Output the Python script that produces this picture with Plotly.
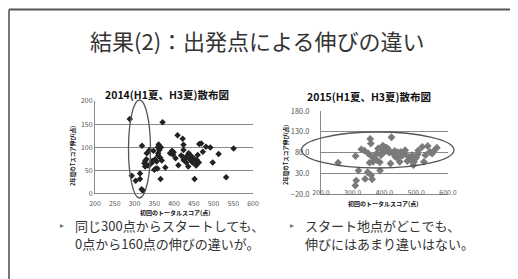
import plotly.graph_objects as go

W, H = 518, 279
OFF = 8  # page body margin that offsets the plot div

# ---- data ----
x2014 = [288, 371, 319, 293, 303, 314, 314, 318, 321, 327, 325, 327, 331, 330, 334, 340,
         348, 347, 352, 356, 350, 354, 358, 360, 360, 363, 361, 359, 365, 367, 366, 369,
         378, 390, 394, 399, 397, 409, 411, 404, 422, 424, 424, 422, 424, 429, 431, 436,
         437, 441, 443, 446, 447, 450, 452, 456, 458, 460, 463, 464, 469, 473, 481, 492,
         498, 513, 532, 551, 338, 345, 395, 432, 440, 445, 455, 418]
y2014 = [161, 154, 103, 38, 27, 43, 31, 9, 6, 58, 65, 70, 87, 74, 60, 63,
         92, 69, 74, 69, 51, 54, 54, 87, 82, 94, 106, 100, 77, 100, 31, 71,
         56, 87, 89, 89, 84, 126, 61, 76, 118, 105, 94, 79, 72, 77, 67, 58,
         87, 83, 79, 74, 67, 76, 31, 60, 72, 83, 67, 107, 108, 90, 101, 99,
         67, 85, 35, 97, 94, 70, 92, 80, 74, 70, 64, 82]

x2015 = [254, 309, 327, 337, 318, 311, 308, 339, 347, 361, 358, 386, 355, 357, 349, 361,
         364, 353, 375, 380, 389, 395, 399, 406, 413, 422, 419, 427, 432, 434, 441, 443,
         448, 451, 456, 462, 465, 472, 475, 482, 487, 491, 493, 500, 506, 519, 524, 529,
         536, 543, 550, 555, 565, 505, 390, 398, 405, 376, 385, 370, 410, 415]
y2015 = [56, 72, 88, 85, 37, 13, 1, 17, 33, 16, 26, 37, 113, 102, 78, 70,
         58, 56, 78, 90, 74, 97, 82, 92, 86, 117, 54, 78, 84, 70, 81, 66,
         58, 82, 73, 78, 86, 60, 70, 62, 74, 50, 58, 68, 85, 94, 58, 74,
         96, 82, 78, 84, 92, 76, 88, 94, 84, 62, 57, 66, 90, 80]

title = "結果(2)：出発点による伸びの違い"
chart1_title = "2014(H1夏、H3夏)散布図"
chart2_title = "2015(H1夏、H3夏)散布図"
ytitle = "2年間のTスコア伸び(点)"
xtitle = "初回のトータルスコア(点)"
bullet1 = ["同じ300点からスタートしても、", "0点から160点の伸びの違いが。"]
bullet2 = ["スタート地点がどこでも、", "伸びにはあまり違いはない。"]

FONT = "Noto Sans CJK JP"


def px(x):
    return (x - OFF) / W


def py(y):
    return 1 - (y - OFF) / H


fig = go.Figure()
fig.add_trace(go.Scatter(x=x2014, y=y2014, mode="markers", xaxis="x", yaxis="y",
                         marker=dict(symbol="diamond", size=5, color="#222222"),
                         showlegend=False, hoverinfo="skip"))
fig.add_trace(go.Scatter(x=x2015, y=y2015, mode="markers", xaxis="x2", yaxis="y2",
                         marker=dict(symbol="diamond", size=6, color="#7a7a7a"),
                         showlegend=False, hoverinfo="skip"))

tickfont = dict(family=FONT, size=7, color="#555555")
grid = "#8a8a8a"

fig.update_layout(
    width=W, height=H, margin=dict(l=0, r=0, t=0, b=0, autoexpand=False),
    paper_bgcolor="white", plot_bgcolor="white",
    font=dict(family=FONT),
    xaxis=dict(domain=[px(95), px(253)], range=[200, 600], dtick=50, tick0=200,
               showgrid=False, zeroline=False, showline=True, linecolor=grid, linewidth=1,
               tickfont=tickfont, ticks="", ticklabelstandoff=3, anchor="y", fixedrange=True),
    yaxis=dict(domain=[py(193.3), py(101)], range=[0, 200], dtick=50, tick0=0,
               showgrid=True, gridcolor=grid, gridwidth=1, zeroline=False,
               showline=True, linecolor=grid, linewidth=1,
               tickfont=tickfont, ticks="", anchor="x", fixedrange=True),
    xaxis2=dict(domain=[px(321), px(448)], range=[200, 600], dtick=100, tick0=200,
                tickformat=".1f", showgrid=False, zeroline=False, showline=True,
                linecolor=grid, linewidth=1, tickfont=tickfont, ticks="",
                ticklabelstandoff=-9, anchor="y2", fixedrange=True),
    yaxis2=dict(domain=[py(194.3), py(111)], range=[-20, 180], dtick=50, tick0=-20,
                tickformat=".1f", showgrid=True, gridcolor=grid, gridwidth=1,
                zeroline=False, showline=True, linecolor=grid, linewidth=1,
                tickfont=dict(family=FONT, size=7.5, color="#555555"), ticks="",
                ticklabelstandoff=9, anchor="x2", fixedrange=True),
)


def A(text, x, y, size, color, xanchor="center", angle=0, family=FONT):
    return dict(text=text, x=px(x), y=py(y), xref="paper", yref="paper",
                xanchor=xanchor, yanchor="middle", showarrow=False, textangle=angle,
                font=dict(family=family, size=size, color=color))


ann = [
    A(title, 256.5, 40, 22, "#333333"),
    A("<b>" + chart1_title + "</b>", 167, 94.5, 10.5, "#111111"),
    A("<b>" + chart2_title + "</b>", 369, 96, 10.5, "#111111"),
]
for xx, yy in [(73, 156), (286, 155)]:
    ann.append(A("<b>" + ytitle + "</b>", xx, yy, 5.5, "#111111", angle=-90))
for xx, yy in [(175, 212.5), (383, 203)]:
    ann.append(A("<b>" + xtitle + "</b>", xx, yy, 6, "#111111"))
for bx, lines in [(62, bullet1), (292, bullet2)]:
    ann.append(A("▸", bx, 225, 8, "#777777", family="DejaVu Sans"))
    for i, line in enumerate(lines):
        ann.append(A(line, bx + 11, 225.5 + 18 * i, 13, "#333333", xanchor="left"))
fig.update_layout(annotations=ann)

shapes = [
    # slide frame
    dict(type="line", xref="paper", yref="paper", x0=px(9), x1=1, y0=py(9.5), y1=py(9.5),
         line=dict(color="#555555", width=2)),
    dict(type="line", xref="paper", yref="paper", x0=px(9), x1=px(9), y0=py(9.5), y1=0,
         line=dict(color="#777777", width=2)),
    # ellipses
    dict(type="circle", xref="paper", yref="paper", x0=px(128.5), x1=px(150.5),
         y0=py(198), y1=py(100), line=dict(color="#555555", width=1.3)),
    dict(type="circle", xref="paper", yref="paper", x0=px(301.5), x1=px(454),
         y0=py(168), y1=py(132), line=dict(color="#555555", width=1.3)),
]
fig.update_layout(shapes=shapes)

fig.write_html("out.html")
